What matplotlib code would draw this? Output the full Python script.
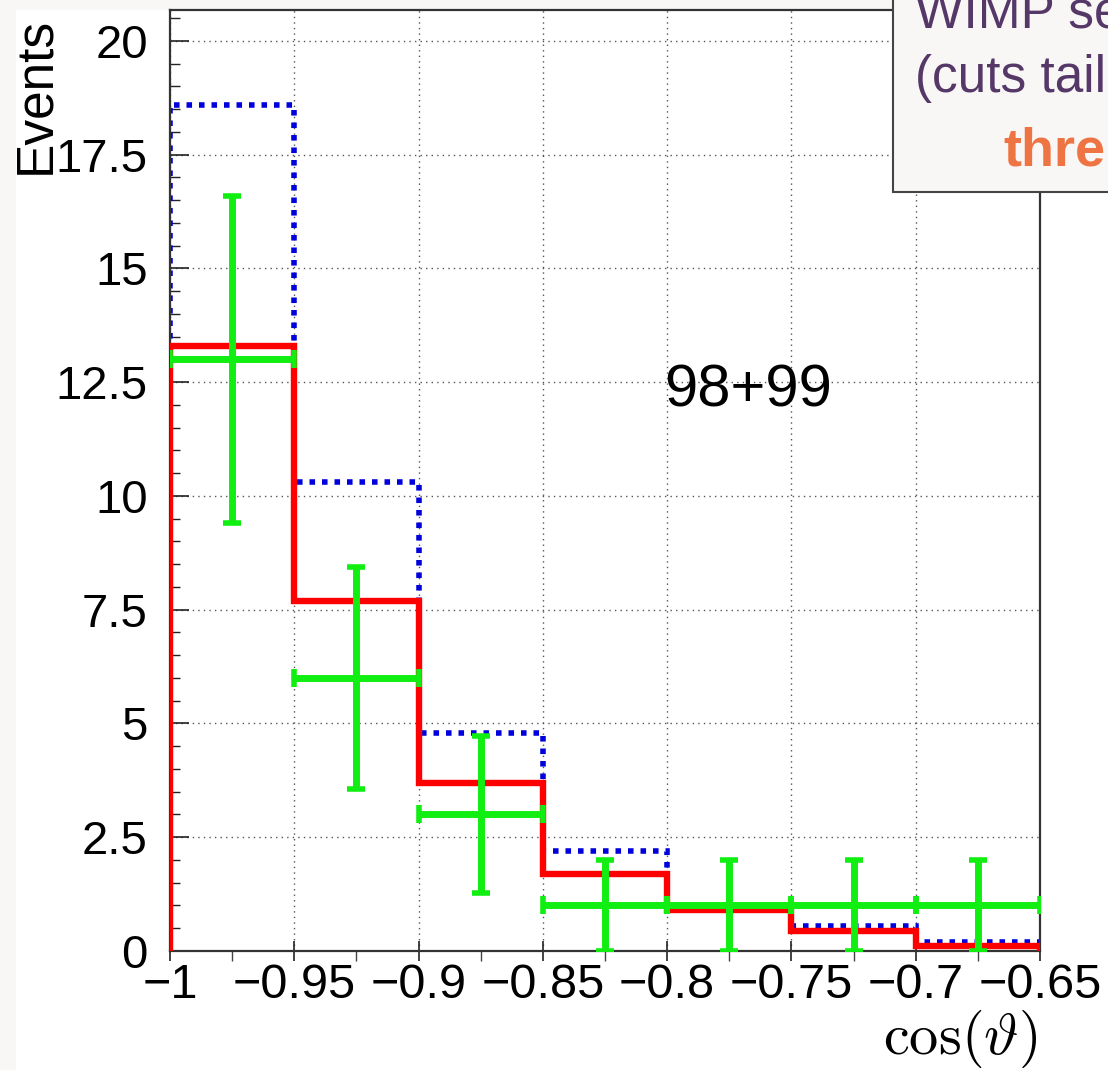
import matplotlib
matplotlib.use('Agg')
import matplotlib.pyplot as plt
from matplotlib.patches import Rectangle
from matplotlib.ticker import MultipleLocator

plt.rcParams['font.family'] = ['Liberation Sans', 'DejaVu Sans']
plt.rcParams['mathtext.fontset'] = 'cm'

# binning in cos(theta)
edges = [-1.0, -0.95, -0.9, -0.85, -0.8, -0.75, -0.7, -0.65]
centers = [-0.975, -0.925, -0.875, -0.825, -0.775, -0.725, -0.675]
half_width = [0.025, 0.025, 0.025, 0.025, 0.025, 0.025, 0.025]

# histograms
blue_mc = [18.6, 10.3, 4.8, 2.2, 0.95, 0.55, 0.2]
red_mc = [13.3, 7.7, 3.7, 1.7, 0.9, 0.45, 0.12]

# data points with errors
data = [13, 6, 3, 1, 1, 1, 1]
data_err = [3.6, 2.45, 1.73, 1.0, 1.0, 1.0, 1.0]

xticks = [-1.0, -0.95, -0.9, -0.85, -0.8, -0.75, -0.7, -0.65]
xticklabels = ['\u22121', '\u22120.95', '\u22120.9', '\u22120.85', '\u22120.8',
               '\u22120.75', '\u22120.7', '\u22120.65']
yticks = [0, 2.5, 5, 7.5, 10, 12.5, 15, 17.5, 20]
yticklabels = ['0', '2.5', '5', '7.5', '10', '12.5', '15', '17.5', '20']

W, H = 1108, 1070
fig = plt.figure(figsize=(W / 100, H / 100), dpi=100)
fig.patch.set_facecolor('#f8f7f5')
fig.add_artist(Rectangle((16 / W, 0), 1, 1 - 10 / H, transform=fig.transFigure,
                         facecolor='white', edgecolor='none', zorder=-10))

ax = fig.add_axes([170 / W, 119 / H, 870 / W, 941 / H])
ax.set_facecolor('white')

ax.stairs(blue_mc, edges, baseline=0, fill=False, color='#0000dd', lw=4.0,
          linestyle=(0, (1, 1.25)), zorder=2)
ax.stairs(red_mc, edges, baseline=0, fill=False, color='#ff0000', lw=4.6, zorder=3)
ax.errorbar(centers, data, xerr=half_width, yerr=data_err, fmt='none',
            ecolor='#11ee11', elinewidth=5, capsize=6.5, capthick=4, zorder=4)

ax.text(-0.801, 11.96, '98+99', fontsize=43, va='baseline', ha='left')

ax.set_xlim(-1.0, -0.65)
ax.set_ylim(0, 20.68)
ax.set_xticks(xticks)
ax.set_xticklabels(xticklabels)
ax.set_yticks(yticks)
ax.set_yticklabels(yticklabels)
ax.xaxis.set_minor_locator(MultipleLocator(0.025))
ax.yaxis.set_minor_locator(MultipleLocator(0.5))

ax.tick_params(axis='y', which='major', direction='in', length=14, width=1.2,
               labelsize=34, pad=16, color='#222', labelcolor='black')
ax.tick_params(axis='y', which='minor', direction='in', length=7, width=1, color='#222')
ax.tick_params(axis='x', which='major', direction='inout', length=14, width=1.2,
               labelsize=35, pad=2, color='#222', labelcolor='black')
ax.tick_params(axis='x', which='minor', direction='out', length=7, width=1, color='#444')

ax.grid(True, which='major', color='#555', linestyle=(0, (1, 3)), linewidth=1)
for s in ax.spines.values():
    s.set_color('#333')
    s.set_linewidth(1.6)

fig.text(36 / W, 1 - 95 / H, 'Events', rotation=90, ha='center', va='center', fontsize=37)
fig.text(1037 / W, 1 - 1054 / H, r'$\cos(\vartheta)$', ha='right', va='baseline', fontsize=42)

# overlapping slide text box (top right)
fig.add_artist(Rectangle((893 / W, 1 - 192 / H), 0.3, 0.3, transform=fig.transFigure,
                         facecolor='#f9f7f6', edgecolor='#444', lw=1.5, zorder=10))
fig.text(915 / W, 1 - 27 / H, 'WIMP se', color='#553868', fontsize=37,
         va='baseline', ha='left', zorder=11)
fig.text(915 / W, 1 - 92 / H, '(cuts tail', color='#553868', fontsize=37,
         va='baseline', ha='left', zorder=11)
fig.text(1003 / W, 1 - 165 / H, 'thre', color='#ef7444', fontsize=39, fontweight='bold',
         va='baseline', ha='left', zorder=11)

plt.savefig('out.png', dpi=100, facecolor=fig.get_facecolor())
